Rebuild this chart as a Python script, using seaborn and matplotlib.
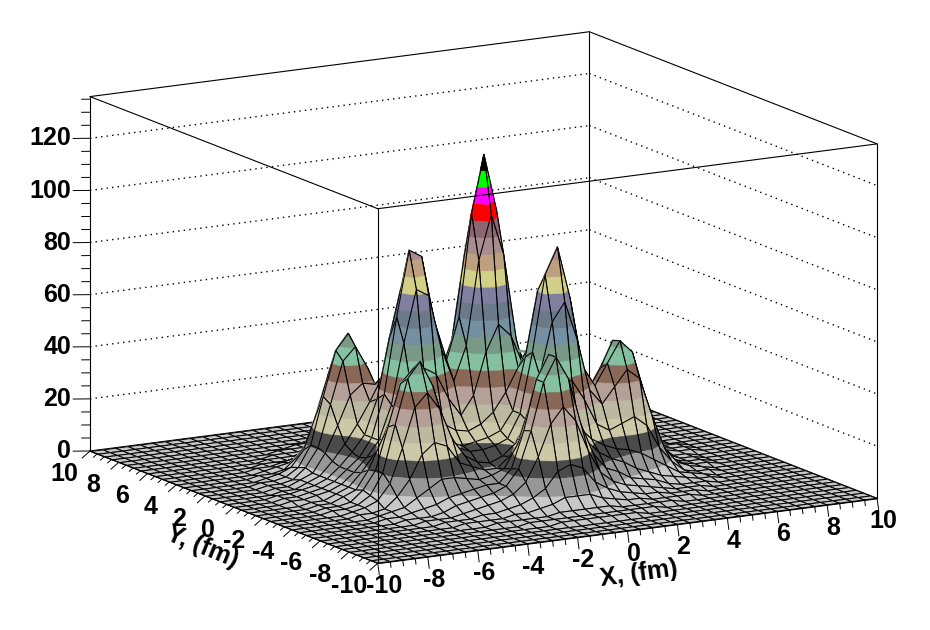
"""
Nucleon density surface, ROOT style box with colour bands
"""

import numpy as np
import matplotlib
matplotlib.use('Agg')
import matplotlib.pyplot as plt
import seaborn as sns
from mpl_toolkits.mplot3d import proj3d
from mpl_toolkits.mplot3d.art3d import Poly3DCollection

# surface heights, x = -8..8 in 0.5 steps
# rows are y = 0, 0.5 .. 8, the picture is mirrored about y = 0
height_rows = [
    [1, 1, 2, 3, 5, 9, 13, 20, 36, 65, 90, 87, 62, 46, 62, 101, 123, 101, 59, 30, 18, 16, 15, 13, 11, 9, 7, 6, 4, 3, 2, 1, 1],
    [1, 1, 2, 3, 5, 9, 14, 20, 33, 56, 76, 73, 52, 39, 52, 84, 101, 85, 52, 29, 19, 16, 15, 14, 12, 10, 8, 6, 4, 3, 2, 1, 1],
    [0, 1, 1, 3, 5, 10, 16, 23, 31, 40, 47, 44, 34, 27, 34, 50, 60, 55, 43, 34, 26, 19, 17, 16, 17, 15, 12, 8, 5, 3, 1, 1, 0],
    [0, 1, 1, 3, 5, 12, 22, 33, 37, 36, 31, 26, 23, 22, 24, 28, 35, 44, 53, 54, 43, 29, 23, 27, 31, 27, 19, 10, 5, 3, 1, 1, 0],
    [0, 1, 1, 2, 6, 13, 29, 45, 50, 41, 29, 20, 18, 19, 20, 22, 29, 49, 74, 81, 64, 40, 33, 41, 51, 46, 29, 13, 6, 2, 1, 1, 0],
    [0, 1, 1, 2, 5, 13, 31, 48, 54, 44, 28, 19, 17, 17, 18, 20, 29, 52, 81, 91, 71, 44, 36, 44, 52, 47, 30, 13, 5, 2, 1, 1, 0],
    [0, 0, 1, 2, 4, 10, 23, 38, 43, 36, 24, 17, 14, 13, 15, 19, 27, 44, 64, 71, 56, 36, 30, 36, 42, 38, 23, 10, 4, 2, 1, 0, 0],
    [0, 0, 1, 1, 2, 6, 12, 21, 25, 23, 16, 14, 12, 12, 16, 22, 29, 35, 41, 42, 34, 24, 21, 23, 25, 21, 12, 6, 2, 1, 1, 0, 0],
    [0, 0, 0, 1, 2, 3, 6, 9, 12, 12, 11, 10, 11, 13, 21, 35, 41, 39, 31, 25, 20, 17, 15, 14, 12, 9, 6, 3, 2, 1, 0, 0, 0],
    [0, 0, 0, 1, 1, 2, 3, 4, 6, 7, 8, 9, 9, 14, 28, 47, 56, 48, 32, 21, 16, 13, 11, 8, 6, 4, 3, 2, 1, 1, 0, 0, 0],
    [0, 0, 0, 0, 1, 1, 1, 2, 4, 5, 6, 7, 9, 15, 29, 47, 56, 47, 29, 17, 11, 9, 6, 5, 4, 2, 1, 1, 1, 0, 0, 0, 0],
    [0, 0, 0, 0, 0, 1, 1, 1, 2, 3, 4, 5, 7, 11, 20, 32, 38, 32, 20, 11, 7, 5, 4, 3, 2, 1, 1, 1, 0, 0, 0, 0, 0],
    [0, 0, 0, 0, 0, 0, 1, 1, 1, 2, 2, 3, 4, 6, 9, 15, 17, 15, 9, 6, 4, 3, 2, 2, 1, 1, 1, 0, 0, 0, 0, 0, 0],
    [0, 0, 0, 0, 0, 0, 0, 1, 1, 1, 1, 2, 2, 3, 4, 6, 6, 6, 4, 3, 2, 2, 1, 1, 1, 1, 0, 0, 0, 0, 0, 0, 0],
    [0, 0, 0, 0, 0, 0, 0, 0, 0, 1, 1, 1, 1, 1, 2, 2, 2, 2, 2, 1, 1, 1, 1, 1, 0, 0, 0, 0, 0, 0, 0, 0, 0],
    [0, 0, 0, 0, 0, 0, 0, 0, 0, 0, 0, 1, 1, 1, 1, 1, 1, 1, 1, 1, 1, 1, 0, 0, 0, 0, 0, 0, 0, 0, 0, 0, 0],
    [0, 0, 0, 0, 0, 0, 0, 0, 0, 0, 0, 0, 0, 1, 1, 1, 1, 1, 1, 1, 0, 0, 0, 0, 0, 0, 0, 0, 0, 0, 0, 0, 0],
]

# colour bands, bottom to top
band_colors = [
    '#c8c8c8', '#979797', '#4b4b4b', '#cdc8a8', '#bdb8a0', '#b5a098', '#8a6858',
    '#85c0a0', '#7a9a88', '#7590a0', '#6b7a88', '#807f9f', '#d2d088', '#bda080',
    '#a88c90', '#8d6570', '#ff0000', '#ff00ff', '#00ff00', '#000000',
]
z_band_top = 123

x_ticks = [-10, -8, -6, -4, -2, 0, 2, 4, 6, 8, 10]
y_ticks = [-10, -8, -6, -4, -2, 0, 2, 4, 6, 8, 10]
z_ticks = [0, 20, 40, 60, 80, 100, 120]
z_top = 136

sns.set_style('white')
plt.rcParams['font.family'] = ['Liberation Sans', 'DejaVu Sans']

half = np.array(height_rows, dtype=float)
inner = np.vstack([half[:0:-1], half])
heights = np.pad(inner, 4)
xs = np.linspace(-10, 10, heights.shape[1])
ys = np.linspace(-10, 10, heights.shape[0])

palette = sns.color_palette(band_colors)
levels = np.linspace(0, z_band_top, len(band_colors) + 1)


def clip_poly(pts, limit, keep_above):
    """Cut a 3D polygon at a z level"""
    out = []
    for k in range(len(pts)):
        a, b = pts[k], pts[(k + 1) % len(pts)]
        in_a = a[2] >= limit if keep_above else a[2] <= limit
        in_b = b[2] >= limit if keep_above else b[2] <= limit
        if in_a:
            out.append(a)
        if in_a != in_b:
            t = (limit - a[2]) / (b[2] - a[2])
            out.append(tuple(a[m] + t * (b[m] - a[m]) for m in range(3)))
    return out


def band_polys(quad):
    """Split a mesh cell into its colour bands"""
    polys, colors = [], []
    zs = [p[2] for p in quad]
    for n, color in enumerate(palette):
        if levels[n + 1] < min(zs) or levels[n] > max(zs):
            continue
        part = clip_poly(quad, levels[n], True)
        if len(part) >= 3:
            part = clip_poly(part, levels[n + 1], False)
        if len(part) >= 3:
            polys.append(part)
            colors.append(color)
    return polys, colors


fig = plt.figure(figsize=(9.3, 6.3), dpi=100)
ax = fig.add_axes([6 / 930, -145 / 630, 1, 930 / 630], projection='3d',
                  proj_type='ortho', computed_zorder=False)
ax.view_init(elev=13.0, azim=240)
ax.set_box_aspect((577, 576, 364), zoom=0.9313)
ax.set_xlim(-10, 10)
ax.set_ylim(-10, 10)
ax.set_zlim(0, z_top)
ax.set_axis_off()


def put_text(x, y, z, text, ha='center', **kwargs):
    """Plain 2D text at a projected 3D position, so rotation is kept"""
    px, py, _ = proj3d.proj_transform(x, y, z, ax.get_proj())
    ax.text2D(px, py, text, ha=ha, **kwargs)


# back walls, behind the surface
for z in z_ticks[1:]:
    ax.plot([-10, 10], [10, 10], [z, z], color='k', lw=1, ls=(0, (1, 3)), zorder=1)
    ax.plot([10, 10], [10, -10], [z, z], color='k', lw=1, ls=(0, (1, 3)), zorder=1)
ax.plot([10, 10], [10, 10], [0, z_top], color='k', lw=0.8, zorder=1)
ax.plot([-10, 10], [10, 10], [0, 0], color='k', lw=0.8, zorder=1)
ax.plot([10, 10], [10, -10], [0, 0], color='k', lw=0.8, zorder=1)

# surface, far cells first
order = 10
clear = [(0, 0, 0, 0)]
for ix in range(len(xs) - 2, -1, -1):
    for iy in range(len(ys) - 2, -1, -1):
        quad = [(xs[ix], ys[iy], heights[iy, ix]),
                (xs[ix + 1], ys[iy], heights[iy, ix + 1]),
                (xs[ix + 1], ys[iy + 1], heights[iy + 1, ix + 1]),
                (xs[ix], ys[iy + 1], heights[iy + 1, ix])]
        polys, colors = band_polys(quad)
        ax.add_collection3d(Poly3DCollection(polys, facecolors=colors, edgecolors=colors,
                                             linewidths=0.3, zorder=order), autolim=False)
        ax.add_collection3d(Poly3DCollection([quad], facecolors=clear, edgecolors='k',
                                             linewidths=0.75, zorder=order + 1), autolim=False)
        order += 2

# front and top of the box
top = order + 10
box_lines = [
    ([-10, -10], [-10, -10], [0, z_top]),
    ([-10, -10], [10, 10], [0, z_top]),
    ([10, 10], [-10, -10], [0, z_top]),
    ([-10, 10], [-10, -10], [0, 0]),
    ([-10, -10], [-10, 10], [0, 0]),
    ([-10, 10], [-10, -10], [z_top, z_top]),
    ([-10, -10], [-10, 10], [z_top, z_top]),
    ([-10, 10], [10, 10], [z_top, z_top]),
    ([10, 10], [-10, 10], [z_top, z_top]),
]
for lx, ly, lz in box_lines:
    ax.plot(lx, ly, lz, color='k', lw=0.8, zorder=top)

# ticks
for t in np.arange(-10, 10.5, 0.5):
    size = 1.0 if t in x_ticks else 0.5
    ax.plot([t, t + 0.06 * size], [-10, -10], [0, -4.6 * size], color='k', lw=0.7, zorder=top)
    ax.plot([-10, -10], [t, t + 0.55 * size], [0, -3.9 * size], color='k', lw=0.7, zorder=top)
for t in np.arange(0, z_top, 5):
    size = 1.0 if t in z_ticks else 0.5
    ax.plot([-10, -10], [10, 10 + 1.18 * size], [t, t - 2.6 * size], color='k', lw=0.7, zorder=top)

label_font = dict(fontsize=18, fontweight='bold', color='k', va='center', zorder=top)
for t in x_ticks:
    put_text(t + 0.24, -10, -9.2, str(t), **label_font)
for t in y_ticks:
    # negative labels are wider and sit a little further out
    shift = 0.2 if t < 0 else 0.0
    put_text(-10, t + 1.8 + shift, -12.6 - shift * 2.2, str(t), **label_font)
for t in z_ticks:
    put_text(-10, 11.32, t - 2.9, str(t), ha='right', **label_font)

put_text(0.48, -10, -17, 'X, (fm)', rotation=8, rotation_mode='anchor', **label_font)
put_text(-10, 2.2, -20, 'Y, (fm)', rotation=-22, rotation_mode='anchor', **label_font)

fig.savefig('out.png', dpi=100, facecolor='white')
